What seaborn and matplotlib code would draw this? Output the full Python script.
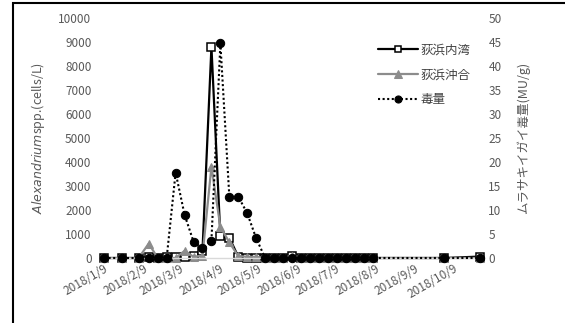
import pandas as pd
import numpy as np
import matplotlib
matplotlib.use("Agg")
import matplotlib.pyplot as plt
import matplotlib.dates as mdates
import matplotlib.ticker as mticker
from matplotlib.patches import Rectangle
import seaborn as sns

# sampling dates
dates = pd.to_datetime([
    "2018-01-09", "2018-01-23", "2018-02-05", "2018-02-13", "2018-02-20",
    "2018-02-27", "2018-03-06", "2018-03-13", "2018-03-20", "2018-03-27",
    "2018-04-03", "2018-04-10", "2018-04-17", "2018-04-24", "2018-05-01",
    "2018-05-08", "2018-05-15", "2018-05-22", "2018-05-29", "2018-06-05",
    "2018-06-12", "2018-06-19", "2018-06-26", "2018-07-03", "2018-07-10",
    "2018-07-17", "2018-07-24", "2018-07-31", "2018-08-07", "2018-10-02",
    "2018-10-30",
])

# Alexandrium spp. (cells/L) - inner bay
inner_bay = [0, 0, 0, 50, 0, 50, 30, 30, 100, 300,
             8800, 900, 850, 50, 0, 0, 0, 0, 0, 80,
             0, 0, 0, 0, 0, 0, 0, 0, 0, 0, 60]
# Alexandrium spp. (cells/L) - offshore
offshore = [0, 0, 0, 600, 0, 0, 0, 300, 50, 100,
            3800, 1300, 650, 80, 50, 50, 0, 0, 0, 100,
            0, 0, 0, 0, 0, 0, 0, 0, 0, 0, 0]
# mussel toxicity (MU/g)
toxin = [0, 0, 0, 0, 0, 0, 17.8, 9.0, 3.4, 2.0,
         3.6, 44.7, 12.8, 12.8, 9.3, 4.1, 0, 0, 0, 0,
         0, 0, 0, 0, 0, 0, 0, 0, 0, 0, 0]

labels = ["荻浜内湾", "荻浜沖合", "毒量"]

sns.set_style("white")
plt.rcParams['font.family'] = ['Noto Sans CJK JP', 'DejaVu Sans']
plt.rcParams['mathtext.fontset'] = 'dejavusans'

tick_color = "#595959"

fig = plt.figure(figsize=(5.65, 3.23), dpi=100)
ax = fig.add_axes([104/565, 1 - 258/323, (480 - 104)/565, (258 - 18)/323])
ax2 = ax.twinx()

sns.lineplot(x=dates, y=inner_bay, ax=ax, color="black", linewidth=1.6,
             marker="s", markersize=5.5, markerfacecolor="white",
             markeredgecolor="black", markeredgewidth=1.1, label=labels[0])
sns.lineplot(x=dates, y=offshore, ax=ax, color="#8c8c8c", linewidth=1.6,
             marker="^", markersize=6, markerfacecolor="#8c8c8c",
             markeredgecolor="#8c8c8c", label=labels[1])
sns.lineplot(x=dates, y=toxin, ax=ax2, color="black", linewidth=1.5,
             linestyle=(0, (1, 1.2)), marker="o", markersize=6,
             markerfacecolor="black", markeredgecolor="black", label=labels[2])

for line in ax.lines + ax2.lines:
    line.set_clip_on(False)

ax.set_xlim(dates[0], dates[-1])
ax.set_ylim(0, 10000)
ax2.set_ylim(0, 50)
ax.yaxis.set_major_locator(mticker.MultipleLocator(1000))
ax2.yaxis.set_major_locator(mticker.MultipleLocator(5))

ax.xaxis.set_major_locator(mdates.MonthLocator(bymonthday=9))
ax.xaxis.set_major_formatter(mticker.FuncFormatter(
    lambda v, p: (lambda d: f"{d.year}/{d.month}/{d.day}")(mdates.num2date(v))))

for a in (ax, ax2):
    for s in a.spines.values():
        s.set_visible(False)
    a.tick_params(length=0, labelsize=8.5, colors=tick_color)
ax.spines['bottom'].set_visible(True)
ax.spines['bottom'].set_color("#d9d9d9")
ax.spines['bottom'].set_linewidth(1.0)
ax.tick_params(axis='y', pad=9)
ax2.tick_params(axis='y', pad=6)
ax.tick_params(axis='x', pad=3)
for t in ax.get_xticklabels():
    t.set_rotation(30)
    t.set_ha("right")
    t.set_va("top")
    t.set_rotation_mode("anchor")

ax.set_xlabel("")
ax.set_ylabel(r"$\mathit{Alexandrium}$spp.(cells/L)", fontsize=9,
              color=tick_color, labelpad=8)
ax2.set_ylabel("ムラサキイガイ毒量(MU/g)", fontsize=9, color=tick_color,
               labelpad=11)

h1, l1 = ax.get_legend_handles_labels()
h2, l2 = ax2.get_legend_handles_labels()
if ax.get_legend():
    ax.get_legend().remove()
if ax2.get_legend():
    ax2.get_legend().remove()
ax2.legend(h1 + h2, l1 + l2, loc="upper left",
           bbox_to_anchor=(367/565, 1 - 32/323), bbox_transform=fig.transFigure,
           frameon=False, fontsize=9, handlelength=3.2, labelspacing=0.95,
           handletextpad=0.2, markerscale=0.85, labelcolor="#404040")

# chart border
fig.patches.append(Rectangle((13/565, -0.1), 1.2, 1.1 - 3/323, fill=False,
                             edgecolor="black", linewidth=1.5,
                             transform=fig.transFigure))

fig.savefig("out.png", dpi=100)
